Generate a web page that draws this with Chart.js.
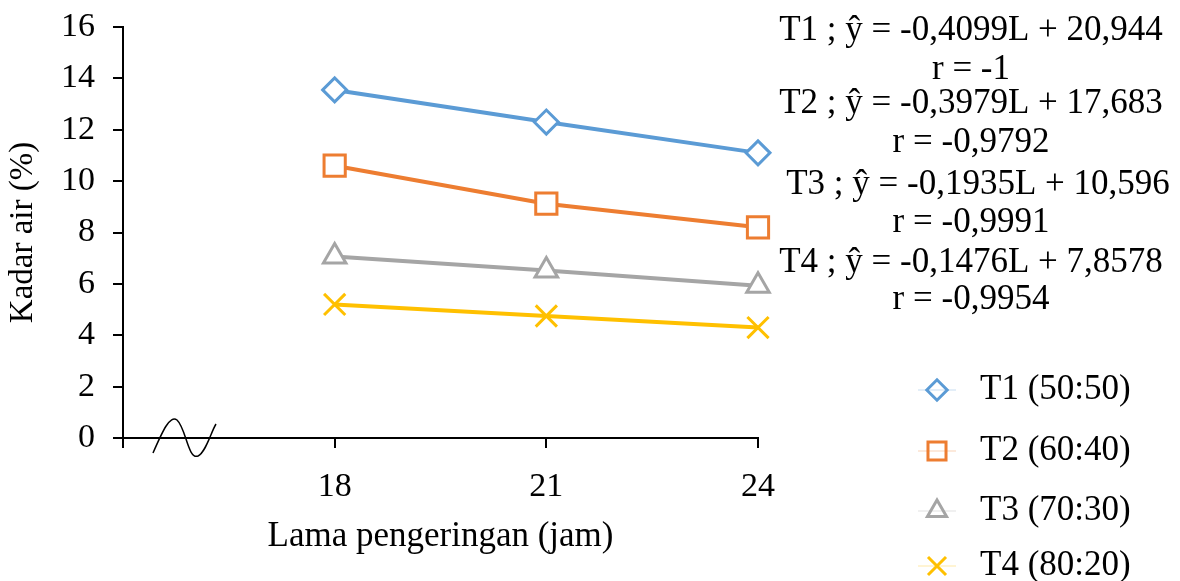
<!DOCTYPE html>
<html>
<head>
<meta charset="utf-8">
<script src="https://cdn.jsdelivr.net/npm/chart.js@4/dist/chart.umd.min.js"></script>
<style>
  html, body { margin: 0; padding: 0; background: #fff; }
  #wrap { width: 1180px; height: 581px; }
</style>
</head>
<body>
<div id="wrap"><canvas id="kadar-air"></canvas></div>
<script>
// Data
const hours = [18, 21, 24];
const t1 = [13.55, 12.3, 11.1];
const t2 = [10.6, 9.12, 8.2];
const t3 = [7.07, 6.52, 5.93];
const t4 = [5.2, 4.75, 4.3];
const seriesLabels = ['T1 (50:50)', 'T2 (60:40)', 'T3 (70:30)', 'T4 (80:20)'];
const equations = [
  'T1 ; ŷ = -0,4099L + 20,944', 'r = -1',
  'T2 ; ŷ = -0,3979L + 17,683', 'r = -0,9792',
  'T3 ; ŷ = -0,1935L + 10,596', 'r = -0,9991',
  'T4 ; ŷ = -0,1476L + 7,8578', 'r = -0,9954'
];

const serif = '"Liberation Serif", "DejaVu Serif", serif';

function pts(vals) {
  return vals.map((v, i) => ({ x: hours[i], y: v }));
}

function makeSet(label, vals, color, style, radius) {
  return {
    label: label,
    data: pts(vals),
    borderColor: color,
    borderWidth: 4,
    pointStyle: style,
    pointRadius: radius,
    pointHoverRadius: radius,
    pointBorderWidth: 3,
    pointBorderColor: color,
    pointBackgroundColor: '#fff',
    fill: false,
    clip: false,
    tension: 0
  };
}

// Equations, axis break and legend drawn on top
const extras = {
  id: 'extras',
  afterDraw(chart) {
    const c = chart.ctx;
    c.save();

    // axis break wave
    c.strokeStyle = '#000';
    c.lineWidth = 1.5;
    c.beginPath();
    c.moveTo(153, 453);
    c.bezierCurveTo(163, 430, 170, 415, 177, 420);
    c.bezierCurveTo(186, 428, 188, 460, 198, 456);
    c.bezierCurveTo(206, 452, 211, 432, 216, 424);
    c.stroke();

    // regression equations
    c.fillStyle = '#000';
    c.font = '35px ' + serif;
    c.textAlign = 'center';
    c.textBaseline = 'middle';
    const eqY = [31, 70, 104, 143, 185, 223, 263, 300];
    equations.forEach((t, i) => {
      const x = i === 4 ? 978 : 971;
      c.fillText(t, x, eqY[i]);
    });

    // legend
    const legY = [390, 451, 511, 566];
    chart.data.datasets.forEach((ds, i) => {
      c.strokeStyle = ds.borderColor;
      c.globalAlpha = 0.35;
      c.lineWidth = 1;
      c.beginPath();
      c.moveTo(918, legY[i]);
      c.lineTo(956, legY[i]);
      c.stroke();
      c.globalAlpha = 1;
      c.strokeStyle = ds.borderColor;
      c.fillStyle = 'rgba(255,255,255,0)';
      c.lineWidth = 3;
      Chart.helpers.drawPoint(c, {
        pointStyle: ds.pointStyle,
        radius: ds.pointRadius * 0.85,
        rotation: 0,
        borderWidth: 3
      }, 937, legY[i]);
      c.fillStyle = '#000';
      c.textAlign = 'left';
      c.fillText(ds.label, 980, legY[i]);
    });
    c.restore();
  }
};

const ctx = document.getElementById('kadar-air').getContext('2d');
new Chart(ctx, {
  type: 'line',
  data: {
    datasets: [
      makeSet(seriesLabels[0], t1, '#5B9BD5', 'rectRot', 12),
      makeSet(seriesLabels[1], t2, '#ED7D31', 'rect', 15),
      makeSet(seriesLabels[2], t3, '#A5A5A5', 'triangle', 13),
      makeSet(seriesLabels[3], t4, '#FFC000', 'crossRot', 15)
    ]
  },
  options: {
    responsive: true,
    maintainAspectRatio: false,
    animation: false,
    layout: { padding: { top: 27, right: 422, left: 0, bottom: 0 } },
    plugins: {
      legend: { display: false },
      tooltip: { enabled: false }
    },
    scales: {
      x: {
        type: 'linear',
        min: 15,
        max: 24,
        afterFit(scale) {
          scale.height = 143;
          scale.paddingLeft = 0;
          scale.paddingRight = 0;
        },
        afterBuildTicks(scale) {
          scale.ticks = [15].concat(hours).map(v => ({ value: v }));
        },
        border: { display: true, color: '#000', width: 2 },
        grid: { drawOnChartArea: false, drawTicks: true, tickLength: 10, color: '#000', lineWidth: 2 },
        ticks: {
          color: '#000',
          padding: 19,
          font: { family: serif, size: 34 },
          callback: v => (v === 15 ? '' : String(v))
        },
        title: {
          display: true,
          text: 'Lama pengeringan (jam)',
          color: '#000',
          font: { family: serif, size: 35 },
          padding: { top: 4, bottom: 23 }
        }
      },
      y: {
        min: 0,
        max: 16,
        afterFit(scale) {
          scale.width = 123;
          scale.paddingTop = 0;
          scale.paddingBottom = 0;
        },
        border: { display: true, color: '#000', width: 2 },
        grid: { drawOnChartArea: false, drawTicks: true, tickLength: 10, color: '#000', lineWidth: 2 },
        ticks: {
          stepSize: 2,
          color: '#000',
          padding: 18,
          font: { family: serif, size: 34 }
        },
        title: {
          display: true,
          text: 'Kadar air (%)',
          color: '#000',
          font: { family: serif, size: 33 },
          padding: { bottom: 0 }
        }
      }
    }
  },
  plugins: [extras]
});
</script>
</body>
</html>
